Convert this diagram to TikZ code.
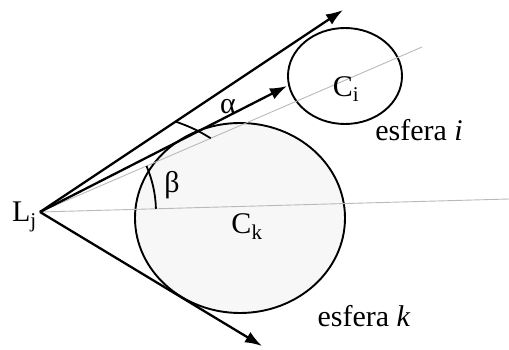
\documentclass[tikz,border=0pt]{standalone}
\usepackage{fontspec}
\setmainfont{Liberation Serif}
\usetikzlibrary{arrows.meta,shapes.geometric,calc}
\begin{document}
\begin{tikzpicture}[x=1pt,y=1pt,
  ray/.style={line width=2.3pt,-{Latex[length=17pt,width=12pt]}},
  axis/.style={line width=0.9pt,gray!55},
  sphere/.style={ellipse,draw,line width=1.9pt,inner sep=0pt},
  anglearc/.style={line width=1.8pt},
  lbl/.style={inner sep=0pt,font=\fontsize{30}{36}\selectfont}]
\useasboundingbox (0,0) rectangle (509,349);
\node[sphere,fill=gray!6,minimum width=210pt,minimum height=190pt] (Ck) at (240,131) {};
\node[sphere,minimum width=114pt,minimum height=96pt] (Ci) at (345,273) {};
\coordinate (Lj) at (40,137);
\coordinate (tipA) at (343,339);
\coordinate (tipB) at (287,263);
\coordinate (tipC) at (262,3);
\coordinate (axisI) at (422,302);
\coordinate (axisK) at (509,150);
\draw[axis] (Lj) -- (axisI);
\draw[axis] (Lj) -- (axisK);
\draw[ray] (Lj) -- (tipA);
\draw[ray] (Lj) -- (tipB);
\draw[ray] (Lj) -- (tipC);
\draw[anglearc] ($(Lj)!163pt!(tipA)$) to[bend left=6] ($(Lj)!186pt!(axisI)$);
\draw[anglearc] (Lj) ++(23.4:116) arc[start angle=23.4,end angle=1.6,radius=116];
\node[lbl,anchor=east] (LjLabel) at (37,132) {L\textsubscript{j}};
\node[lbl] (CkLabel) at (247,122) {C\textsubscript{k}};
\node[lbl] (CiLabel) at (346,260) {C\textsubscript{i}};
\node[lbl] (alpha) at (228,242) {α};
\node[lbl] (beta) at (172,164) {β};
\node[lbl] (esferaI) at (419,219) {esfera \textit{i}};
\node[lbl] (esferaK) at (364,33) {esfera \textit{k}};
\end{tikzpicture}
\end{document}
